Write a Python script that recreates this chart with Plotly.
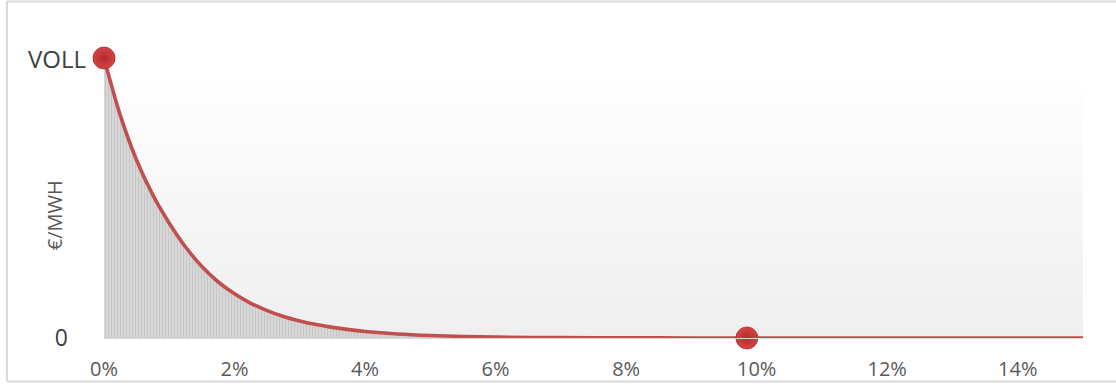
import plotly.graph_objects as go

# Share of unserved load (x) against price, expressed as % of VOLL (y)
share = [0, 0.0025, 0.005, 0.0075, 0.01, 0.0125, 0.015, 0.0175, 0.02, 0.0225,
         0.025, 0.0275, 0.03, 0.0325, 0.035, 0.0375, 0.04, 0.045, 0.05, 0.055,
         0.06, 0.07, 0.08, 0.09, 0.10, 0.11, 0.12, 0.13, 0.14, 0.15]
price = [100, 79.5, 63.5, 51, 41, 32.5, 25.5, 20, 15.8, 12.4,
         9.8, 7.7, 6.1, 4.8, 3.8, 3.0, 2.35, 1.45, 0.9, 0.55,
         0.33, 0.12, 0.05, 0.02, 0, 0, 0, 0, 0, 0]

# Highlighted points: VOLL at zero shortage, zero price further out
marker_share = [0, 0.0985]
marker_price = [100, 0]

x_ticks = [0, 0.02, 0.04, 0.06, 0.08, 0.10, 0.12, 0.14]
x_tick_text = ["0%", "2%", "4%", "6%", "8%", "10%", "12%", "14%"]
y_ticks = [0]
y_tick_text = ["0"]

FONT = "Open Sans"
RED = "#c0504d"

fig = go.Figure()

# Curve with vertical hatching beneath it
fig.add_trace(go.Scatter(
    x=share, y=price, mode="lines",
    line=dict(color=RED, width=3.6, shape="spline", smoothing=0.9),
    fill="tozeroy",
    fillpattern=dict(shape="|", fgcolor="#b4b4b4", bgcolor="#d9d9d9",
                     size=3, solidity=0.4),
    hoverinfo="skip", cliponaxis=False,
))

fig.add_trace(go.Scatter(
    x=marker_share, y=marker_price, mode="markers",
    marker=dict(size=22, color="#d64343",
                gradient=dict(type="radial", color="#b12d2f"),
                line=dict(color="#a82a2c", width=0.8)),
    hoverinfo="skip", cliponaxis=False,
))

# Background gradient of the plotting region (white at top to light grey)
n_bands = 40
g_top = 0.921
for i in range(n_bands):
    t = i / (n_bands - 1)
    c = int(round(254 - (254 - 239) * t))
    y1 = g_top - g_top * i / n_bands
    y0 = g_top - g_top * (i + 1) / n_bands
    fig.add_shape(type="rect", xref="paper", yref="paper",
                  x0=0, x1=1, y0=y0, y1=y1 + 0.002,
                  fillcolor=f"rgb({c},{c},{c})", line=dict(width=0),
                  layer="below")

# Outer frame of the chart
frame = dict(color="#d9d9d9", width=2)
fig.add_shape(type="line", xref="paper", yref="paper",
              x0=-0.0991, x1=1.05, y0=1.2018, y1=1.2018, line=frame)
fig.add_shape(type="line", xref="paper", yref="paper",
              x0=-0.0991, x1=-0.0991, y0=1.2018, y1=-0.1554, line=frame)
fig.add_shape(type="line", xref="paper", yref="paper",
              x0=-0.0991, x1=1.05, y0=-0.1554, y1=-0.1554, line=frame)

fig.add_annotation(x=0, y=100, xref="x", yref="y", text="VOLL",
                   showarrow=False, xanchor="right", yanchor="middle",
                   xshift=-16, font=dict(family=FONT, size=24, color="#404040"))
fig.add_annotation(x=-0.051, y=0.439, xref="paper", yref="paper", text="€/MWH",
                   showarrow=False, textangle=-90,
                   xanchor="center", yanchor="middle",
                   font=dict(family=FONT, size=20, color="#595959"))

fig.update_layout(
    width=1116, height=386,
    margin=dict(l=104, r=33, t=58, b=48, autoexpand=False),
    paper_bgcolor="white", plot_bgcolor="white",
    showlegend=False,
    xaxis=dict(range=[0, 0.15], tickvals=x_ticks, ticktext=x_tick_text,
               showgrid=False, zeroline=False, showline=True,
               linecolor="#d9d9d9", linewidth=1, ticks="",
               ticklabelstandoff=13, automargin=False,
               tickfont=dict(family=FONT, size=20, color="#595959")),
    yaxis=dict(range=[0, 100], tickvals=y_ticks, ticktext=y_tick_text,
               showgrid=False, zeroline=False, showline=False, ticks="",
               ticklabelstandoff=35, automargin=False,
               tickfont=dict(family=FONT, size=23, color="#404040")),
)

fig.write_html("out.html")
